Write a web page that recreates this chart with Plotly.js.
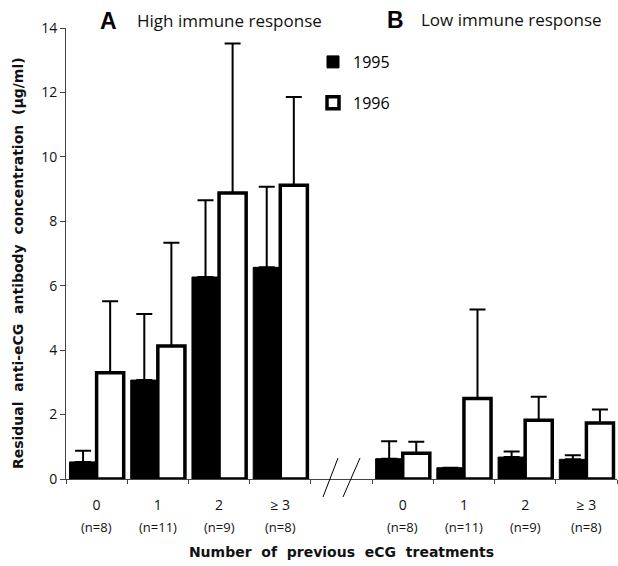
<!DOCTYPE html>
<html><head><meta charset="utf-8">
<script src="https://cdn.plot.ly/plotly-3.0.1.min.js"></script>
<style>html,body{margin:0;padding:0;background:#fff}#chart{width:618px;height:566px}</style>
</head><body><div id="chart"></div>
<script>
// ---- data ----
const categories = ['0', '1', '2', '\u2265 3'];
const nLabels = ['(n=8)', '(n=11)', '(n=9)', '(n=8)'];
const panelLabels = ['A', 'B'];
const panelTitles = ['High immune response', 'Low immune response'];
const seriesNames = ['1995', '1996'];
const high1995 = [0.53, 3.07, 6.27, 6.57];
const highErr1995 = [0.35, 2.05, 2.38, 2.50];
const high1996 = [3.30, 4.13, 8.88, 9.12];
const highErr1996 = [2.22, 3.20, 4.64, 2.74];
const low1995 = [0.63, 0.35, 0.68, 0.61];
const lowErr1995 = [0.54, 0.00, 0.17, 0.13];
const low1996 = [0.80, 2.50, 1.82, 1.74];
const lowErr1996 = [0.36, 2.76, 0.73, 0.42];
const yTicks = [0, 2, 4, 6, 8, 10, 12, 14];

// ---- positions: panel A slots 0..3, gap slot 4, panel B slots 5..8 ----
const xA = categories.map((c, i) => i);
const xB = categories.map((c, i) => i + categories.length + 1);
const xAll = xA.concat(xB);
const tickText = categories.concat(categories);

// pixel -> paper helpers (plot area 66..617 x, 28..479 y)
const L = 66, R = 617, T = 28, B = 479;
const px = x => (x - L) / (R - L);
const py = y => (B - y) / (B - T);

const titleFont = {family: 'Open Sans, sans-serif', size: 17, color: '#111'};
const tickFont = {family: 'Open Sans, sans-serif', size: 14, color: '#111'};
const boldFont = {family: 'DejaVu Sans, sans-serif', size: 14, color: '#111'};
const letterFont = {family: 'Liberation Sans, Arial, sans-serif', size: 23, color: '#000'};

const traces = [
  {
    type: 'bar', name: seriesNames[0], legendgroup: 'g1',
    x: xAll, y: high1995.concat(low1995),
    marker: {color: '#000', line: {color: '#000', width: 1}},
    error_y: {type: 'data', symmetric: false, array: highErr1995.concat(lowErr1995),
              arrayminus: xAll.map(() => 0), color: '#000', thickness: 2, width: 8}
  },
  {
    type: 'bar', name: seriesNames[1], legendgroup: 'g2',
    x: xAll, y: high1996.concat(low1996),
    marker: {color: '#fff', line: {color: '#000', width: 3.5}},
    error_y: {type: 'data', symmetric: false, array: highErr1996.concat(lowErr1996),
              arrayminus: xAll.map(() => 0), color: '#000', thickness: 2, width: 8}
  }
];

const annotations = [];
xAll.forEach((x, i) => {
  annotations.push({xref: 'x', yref: 'paper', x: x, y: py(527), text: nLabels[i % nLabels.length],
    showarrow: false, font: {family: 'Open Sans, sans-serif', size: 13, color: '#111'},
    xanchor: 'center', yanchor: 'middle'});
});
// panel labels
annotations.push({xref: 'paper', yref: 'paper', x: px(108), y: py(21), text: '<b>' + panelLabels[0] + '</b>',
  showarrow: false, font: letterFont, xanchor: 'center', yanchor: 'middle'});
annotations.push({xref: 'paper', yref: 'paper', x: px(135), y: py(21), text: panelTitles[0],
  showarrow: false, font: titleFont, xanchor: 'left', yanchor: 'middle'});
annotations.push({xref: 'paper', yref: 'paper', x: px(395), y: py(20), text: '<b>' + panelLabels[1] + '</b>',
  showarrow: false, font: letterFont, xanchor: 'center', yanchor: 'middle'});
annotations.push({xref: 'paper', yref: 'paper', x: px(419), y: py(20), text: panelTitles[1],
  showarrow: false, font: titleFont, xanchor: 'left', yanchor: 'middle'});

// axis break marks
const shapes = [
  {type: 'line', xref: 'paper', yref: 'paper', x0: px(323), y0: py(497), x1: px(338), y1: py(458), line: {color: '#000', width: 1}},
  {type: 'line', xref: 'paper', yref: 'paper', x0: px(343), y0: py(497), x1: px(360), y1: py(458), line: {color: '#000', width: 1}}
];

const layout = {
  width: 618, height: 566,
  margin: {l: L, r: 618 - R, t: T, b: 566 - B, pad: 0},
  paper_bgcolor: '#fff', plot_bgcolor: '#fff',
  barmode: 'group', bargap: 0.115, bargroupgap: 0,
  showlegend: true,
  legend: {x: px(313), y: py(45), xanchor: 'left', yanchor: 'top', bgcolor: 'rgba(0,0,0,0)',
           font: {family: 'Open Sans, sans-serif', size: 16, color: '#000'},
           traceorder: 'grouped', tracegroupgap: 17, itemwidth: 30},
  xaxis: {
    range: [-0.5, xB[xB.length - 1] + 0.5],
    tickmode: 'array', tickvals: xAll, ticktext: tickText,
    ticks: '', ticklabelstandoff: 13, tickfont: tickFont,
    showline: true, linecolor: '#444', linewidth: 1,
    showgrid: false, zeroline: false,
    minor: {tickmode: 'linear', tick0: -0.5, dtick: 1, ticks: 'outside', ticklen: 4, tickcolor: '#444', tickwidth: 1, showgrid: false},
    title: {text: '<b>' + 'Number of previous eCG treatments'.split(' ').join('\u00a0\u00a0') + '</b>', font: boldFont, standoff: 34}
  },
  yaxis: {
    range: [0, 14], tickmode: 'array', tickvals: yTicks,
    ticks: 'outside', ticklen: 5, tickcolor: '#444', tickfont: tickFont,
    showline: true, linecolor: '#444', linewidth: 1,
    showgrid: false, zeroline: false,
    title: {text: '<b>' + 'Residual anti-eCG antibody concentration (\u00b5g/ml)'.split(' ').join('\u00a0\u00a0') + '\u00a0\u00a0\u00a0\u00a0</b>', font: boldFont, standoff: 14}
  },
  annotations: annotations,
  shapes: shapes
};

Plotly.newPlot('chart', traces, layout, {displayModeBar: false, staticPlot: true});
</script>
</body></html>
